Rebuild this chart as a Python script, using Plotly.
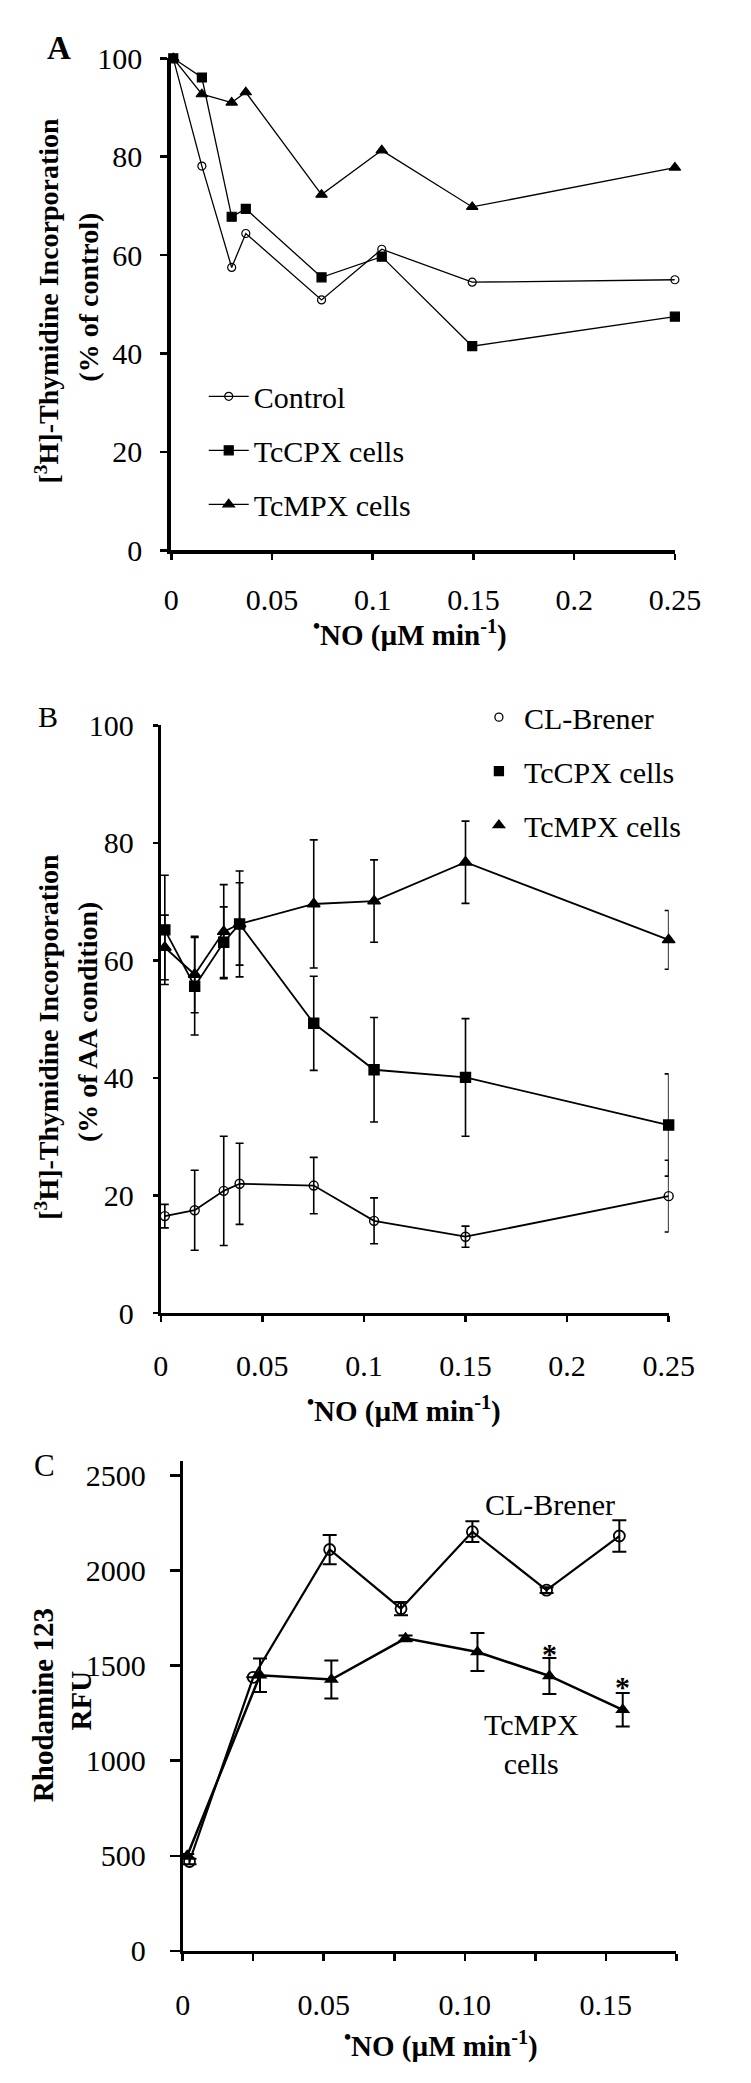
import plotly.graph_objects as go

W, H = 751, 2083
FONT = "Liberation Serif"

# ---------------- Panel A data ----------------
a_x = [0.001, 0.0152, 0.030, 0.037, 0.0746, 0.1045, 0.1494, 0.25]
a_control = [100, 78.1, 57.5, 64.4, 50.9, 61.2, 54.5, 55.0]
a_tccpx = [100, 96.1, 67.8, 69.4, 55.5, 59.7, 41.5, 47.5]
a_tcmpx = [100, 92.7, 91.0, 93.1, 72.3, 81.3, 69.8, 77.8]
a_names = ["Control", "TcCPX cells", "TcMPX cells"]

# ---------------- Panel B data ----------------
b_x = [0.002, 0.0167, 0.031, 0.0388, 0.0753, 0.105, 0.150, 0.25]
b_clb = [16.5, 17.5, 20.8, 22.0, 21.7, 15.7, 13.0, 19.9]
b_clb_err = [2.0, 6.8, 9.3, 6.9, 4.8, 3.9, 1.8, 6.1]
b_tccpx = [65.2, 55.6, 63.1, 66.2, 49.3, 41.4, 40.1, 32.0]
b_tccpx_err = [9.3, 8.3, 6.0, 9.0, 8.0, 8.9, 10.0, 8.7]
b_tcmpx = [62.2, 57.6, 64.9, 66.2, 69.6, 70.1, 76.7, 63.5]
b_tcmpx_err = [5.5, 6.5, 8.0, 7.0, 10.9, 7.0, 7.0, 5.0]
b_names = ["CL-Brener", "TcCPX cells", "TcMPX cells"]

# ---------------- Panel C data ----------------
c_x_clb = [0.0024, 0.025, 0.0521, 0.0774, 0.1027, 0.129, 0.1548]
c_clb = [470, 1439, 2111, 1800, 2205, 1897, 2182]
c_clb_err = [15, 0, 77, 35, 55, 15, 83]
c_x_tc = [0.0016, 0.0274, 0.0527, 0.079, 0.1045, 0.130, 0.156]
c_tc = [500, 1450, 1427, 1644, 1572, 1446, 1268]
c_tc_err = [10, 88, 100, 15, 100, 95, 88]
c_star_x = [0.130, 0.156]
c_star_y = [1565, 1390]
c_tickvals = [0, 0.05, 0.10, 0.15]
c_ticktext = ["0", "0.05", "0.10", "0.15"]


def px(x):
    return x / W


def py(y):
    return 1 - y / H


fig = go.Figure()

symbols = ["circle-open", "square", "triangle-up"]
sizes_a = [8, 9, 10]

# Panel A traces
for i, (name, ys) in enumerate(zip(a_names, [a_control, a_tccpx, a_tcmpx])):
    fig.add_trace(go.Scatter(
        x=a_x, y=ys, name=name, mode="lines+markers",
        line=dict(color="black", width=1.3),
        marker=dict(symbol=symbols[i], size=sizes_a[i], color="black",
                    line=dict(color="black", width=1.2)),
        xaxis="x", yaxis="y", legend="legend", legendgroup="a%d" % i,
        cliponaxis=False,
    ))

# Panel B traces
sizes_b = [9, 10, 11]
for i, (ys, es) in enumerate(zip([b_clb, b_tccpx, b_tcmpx],
                                  [b_clb_err, b_tccpx_err, b_tcmpx_err])):
    fig.add_trace(go.Scatter(
        x=b_x, y=ys, mode="lines+markers", showlegend=False,
        line=dict(color="black", width=1.8),
        marker=dict(symbol=symbols[i], size=sizes_b[i], color="black",
                    line=dict(color="black", width=1.4)),
        error_y=dict(type="data", array=es, visible=True, color="black",
                     thickness=1.6, width=4),
        xaxis="x2", yaxis="y2", cliponaxis=False,
    ))
# Panel B legend entries (markers only)
for i, name in enumerate(b_names):
    fig.add_trace(go.Scatter(
        x=[None], y=[None], name=name, mode="markers",
        marker=dict(symbol=symbols[i], size=[8, 9, 10][i], color="black",
                    line=dict(color="black", width=1.3)),
        xaxis="x2", yaxis="y2", legend="legend2", legendgroup="b%d" % i,
    ))

# Panel C traces
fig.add_trace(go.Scatter(
    x=c_x_tc, y=c_tc, mode="lines+markers", showlegend=False,
    line=dict(color="black", width=2.5),
    marker=dict(symbol="triangle-up", size=13, color="black"),
    error_y=dict(type="data", array=c_tc_err, visible=True, color="black",
                 thickness=2, width=7),
    xaxis="x3", yaxis="y3", cliponaxis=False,
))
fig.add_trace(go.Scatter(
    x=c_x_clb, y=c_clb, mode="lines+markers", showlegend=False,
    line=dict(color="black", width=2.2),
    marker=dict(symbol="circle-open", size=11, color="black",
                line=dict(color="black", width=1.8)),
    error_y=dict(type="data", array=c_clb_err, visible=True, color="black",
                 thickness=2, width=7),
    xaxis="x3", yaxis="y3", cliponaxis=False,
))

tickfont = dict(family=FONT, size=30, color="black")
axis_common = dict(showgrid=False, zeroline=False, showline=True,
                   linecolor="black", ticks="outside", tickcolor="black",
                   tickfont=tickfont, fixedrange=True)

fig.update_layout(
    width=W, height=H, margin=dict(l=0, r=0, t=0, b=0),
    paper_bgcolor="white", plot_bgcolor="white",
    font=dict(family=FONT, color="black", size=29),
    xaxis=dict(domain=[px(171), px(698.5)], range=[0, 0.25], anchor="y",
               tickvals=[0, 0.05, 0.1, 0.15, 0.2, 0.25],
               ticktext=["0", "0.05", "0.1", "0.15", "0.2", "0.25"],
               linewidth=4, ticklen=6, tickwidth=2.5, ticklabelstandoff=14,
               **axis_common),
    yaxis=dict(domain=[py(543), py(43)], range=[0, 100], anchor="x",
               tickvals=[0, 20, 40, 60, 80, 100],
               linewidth=4, ticklen=7, tickwidth=2.5, ticklabelstandoff=12,
               **axis_common),
    xaxis2=dict(domain=[px(160), px(692)], range=[0, 0.25], anchor="y2",
                tickvals=[0, 0.05, 0.1, 0.15, 0.2, 0.25],
                ticktext=["0", "0.05", "0.1", "0.15", "0.2", "0.25"],
                linewidth=3, ticklen=6, tickwidth=2.5, ticklabelstandoff=18,
                **axis_common),
    yaxis2=dict(domain=[py(1318), py(720.7)], range=[0, 100], anchor="x2",
                tickvals=[0, 20, 40, 60, 80, 100],
                linewidth=3, ticklen=5, tickwidth=2.5, ticklabelstandoff=13,
                **axis_common),
    xaxis3=dict(domain=[px(183), px(700)], range=[0, 0.175], anchor="y3",
                tickvals=c_tickvals, ticktext=c_ticktext,
                minor=dict(dtick=0.025, tick0=0, ticks="outside", ticklen=7,
                           tickwidth=2.5, tickcolor="black"),
                linewidth=3, ticklen=7, tickwidth=2.5, ticklabelstandoff=18,
                **axis_common),
    yaxis3=dict(domain=[py(1966), py(1468)], range=[0, 2578], anchor="x3",
                tickvals=[0, 500, 1000, 1500, 2000, 2500],
                linewidth=3, ticklen=10, tickwidth=2.5, ticklabelstandoff=18,
                **axis_common),
    legend=dict(x=px(205), y=py(360), xanchor="left", yanchor="top",
                bgcolor="rgba(0,0,0,0)", borderwidth=0, tracegroupgap=12,
                font=dict(family=FONT, size=30, color="black"),
                itemwidth=40),
    legend2=dict(x=px(488), y=py(686), xanchor="left", yanchor="top",
                 bgcolor="rgba(0,0,0,0)", borderwidth=0, tracegroupgap=12,
                 font=dict(family=FONT, size=30, color="black"),
                 itemwidth=40),
)


def fnt(s):
    return dict(family=FONT, size=s, color="black")


ann = []
# Panel labels
ann.append(dict(text="<b>A</b>", x=px(53), y=py(33), font=fnt(33)))
ann.append(dict(text="B", x=px(42), y=py(712), font=fnt(30)))
ann.append(dict(text="C", x=px(38), y=py(1473), font=fnt(31)))
# x-axis titles
xt = "<b><sup>•</sup>NO (µM min<sup>-1</sup>)</b>"
ann.append(dict(text=xt, x=px(421), y=py(627), font=fnt(29)))
ann.append(dict(text=xt, x=px(415), y=py(1416), font=fnt(29)))
ann.append(dict(text=xt, x=px(454), y=py(2061), font=fnt(29)))
# y-axis titles
ann.append(dict(text="<b>[<sup>3</sup>H]-Thymidine Incorporation</b>", x=px(41), y=py(289),
                textangle=-90, font=fnt(28)))
ann.append(dict(text="<b>(% of control)</b>", x=px(84), y=py(286),
                textangle=-90, font=fnt(28)))
ann.append(dict(text="<b>[<sup>3</sup>H]-Thymidine Incorporation</b>", x=px(41), y=py(1037),
                textangle=-90, font=fnt(28)))
ann.append(dict(text="<b>(% of AA condition)</b>", x=px(84), y=py(1022),
                textangle=-90, font=fnt(28)))
ann.append(dict(text="<b>Rhodamine 123</b>", x=px(36), y=py(1716),
                textangle=-90, font=fnt(29)))
ann.append(dict(text="<b>RFU</b>", x=px(76), y=py(1712),
                textangle=-90, font=fnt(29)))
for a in ann:
    a.update(xref="paper", yref="paper", showarrow=False,
             xanchor="center", yanchor="middle")

# Panel C in-plot labels
ann_c = [
    dict(text="CL-Brener", x=0.1303, y=2347),
    dict(text="TcMPX<br>cells", x=0.1236, y=1087),
]
for a in ann_c:
    a.update(xref="x3", yref="y3", showarrow=False, font=fnt(30))
for sx, sy in zip(c_star_x, c_star_y):
    ann_c.append(dict(text="<b>*</b>", x=sx, y=sy, xref="x3", yref="y3",
                      showarrow=False, font=fnt(30)))

fig.update_layout(annotations=ann + ann_c)

fig.write_html("out.html",
               config={"displayModeBar": False, "staticPlot": True},
               post_script="document.body.style.margin='0';"
                           "document.body.style.overflow='hidden';")
